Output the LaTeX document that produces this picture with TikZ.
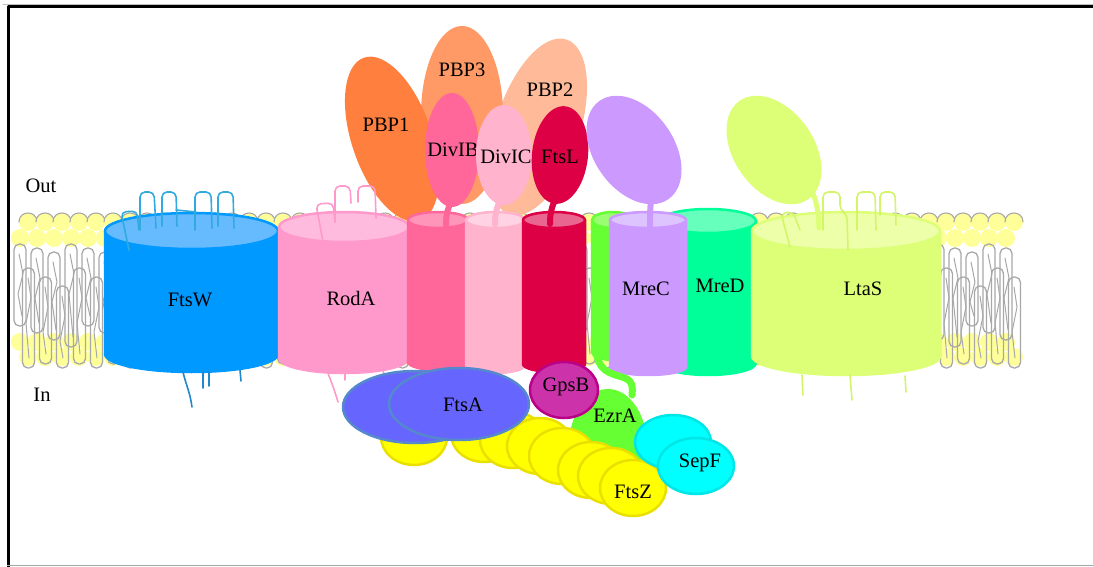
\documentclass[tikz,border=0pt]{standalone}
\usepackage{fontspec}
\setmainfont{Liberation Serif}
% membrane protein palette
\definecolor{ftsw}{HTML}{0099FF}\definecolor{ftswtop}{HTML}{66BBFF}
\definecolor{ftswloop}{HTML}{33AADD}\definecolor{ftswloopb}{HTML}{2288CC}
\definecolor{roda}{HTML}{FF99CC}\definecolor{rodatop}{HTML}{FFBBDD}
\definecolor{divib}{HTML}{FF6699}\definecolor{divibtop}{HTML}{FF95B8}
\definecolor{divic}{HTML}{FFB3CC}\definecolor{divictop}{HTML}{FFD3E3}
\definecolor{ftsl}{HTML}{DD0044}\definecolor{ftsltop}{HTML}{E8668F}
\definecolor{ezra}{HTML}{66FF33}\definecolor{ezratop}{HTML}{99FF70}
\definecolor{mrec}{HTML}{CC99FF}\definecolor{mrectop}{HTML}{DDC4FF}
\definecolor{mred}{HTML}{00FF99}\definecolor{mredtop}{HTML}{66FFBB}
\definecolor{ltas}{HTML}{DDFF77}\definecolor{ltastop}{HTML}{EEFFAA}\definecolor{ltasline}{HTML}{D2F56A}
\definecolor{pbpone}{HTML}{FF7F3F}\definecolor{pbpthree}{HTML}{FF9966}\definecolor{pbptwo}{HTML}{FFBB99}
\definecolor{ftsa}{HTML}{6666FF}\definecolor{ftsaedge}{HTML}{5588CC}
\definecolor{gpsb}{HTML}{CC33AA}\definecolor{gpsbedge}{HTML}{BB0088}
\definecolor{ftsz}{HTML}{FFFF00}\definecolor{ftszedge}{HTML}{EAE000}
\definecolor{sepf}{HTML}{00FFFF}\definecolor{sepfedge}{HTML}{00E5E5}
\definecolor{lipidhead}{HTML}{FFFF99}\definecolor{lipidtail}{HTML}{A8A8A8}

% transmembrane cylinder: xl, xr, top centre y, bottom centre y, y radius, body, lid
\newcommand\memcyl[7]{%
  \pgfmathsetmacro\cylxc{(#1+#2)/2}%
  \pgfmathsetmacro\cylrx{(#2-#1)/2}%
  \pgfmathsetmacro\cylkx{0.5523*\cylrx}%
  \pgfmathsetmacro\cylyb{#4+#5}%
  \pgfmathsetmacro\cylybk{#4+0.5523*#5}%
  \filldraw[fill=#6, draw=#6, line width=2.5pt]
    (#1,#3) -- (#1,#4) .. controls (#1,\cylybk) and (\cylxc-\cylkx,\cylyb) .. (\cylxc,\cylyb)
    .. controls (\cylxc+\cylkx,\cylyb) and (#2,\cylybk) .. (#2,#4) -- (#2,#3) -- cycle;
  \filldraw[fill=#7, draw=#6, line width=2.5pt] (\cylxc,#3) ellipse [x radius=\cylrx, y radius=#5];
}

\begin{document}
\begin{tikzpicture}[x=1pt, y=-1pt, line join=round, line cap=round,
  lbl/.style={font=\fontsize{20.5}{24}\selectfont, inner sep=0pt, text=black},
  tmloop/.style={line width=1.6pt, rounded corners=5pt},
  stalk/.style={line width=6pt},
  tail/.style={lipidtail, line width=1.3pt, rounded corners=5.5pt}]
\useasboundingbox (0,0) rectangle (1093,567);

% ---- lipid bilayer ----
\foreach \i in {0,...,58} {
  \pgfmathsetmacro\lx{20+17*\i}
  \fill[lipidhead] (\lx,342) circle [radius=9];
  \fill[lipidhead] (\lx+8,357) circle [radius=9];
  \fill[lipidhead] (\lx+8,222) circle [radius=9];
  \fill[lipidhead] (\lx,238) circle [radius=9];
  \draw[lipidtail, line width=1.1pt] (\lx-1,222) .. controls (\lx-1,210) and (\lx+17,210) .. (\lx+17,222);
}
\foreach \i in {0,...,58} {
  \pgfmathsetmacro\lx{20+17*\i}
  \pgfmathsetmacro\ua{244+mod(\i,3)*4}
  \pgfmathsetmacro\ub{326+mod(\i,4)*7}
  \pgfmathsetmacro\la{268+mod(\i,3)*9}
  \pgfmathsetmacro\lb{368-mod(\i,2)*4}
  % upper-leaflet tails
  \draw[tail] (\lx-6,\ub) -- (\lx-6,\ua) -- (\lx+6,\ua) -- (\lx+6,\ub) -- cycle;
  \draw[lipidtail, line width=1pt]
    (\lx-1,\ua+10) -- (\lx+3,\ua+30) -- (\lx-2,\ua+50) -- (\lx+2,\ub-10);
  % lower-leaflet tails
  \draw[tail] (\lx+2.5,\la) -- (\lx+2.5,\lb) -- (\lx+14.5,\lb) -- (\lx+14.5,\la) -- cycle;
  \draw[lipidtail, line width=1pt]
    (\lx+8,\la+10) -- (\lx+11,\la+30) -- (\lx+6,\la+55) -- (\lx+9,\lb-10);
}

% ---- periplasmic domains ----
\fill[pbptwo, rotate around={-18:(538,127)}] (538,127) ellipse [x radius=42, y radius=92];
\fill[pbpthree] (462,115) ellipse [x radius=41, y radius=89];
\fill[pbpone, rotate around={19:(392,139)}] (392,139) ellipse [x radius=40, y radius=86];
\node[lbl] (tPBP1) at (386,125) {PBP1};
\node[lbl] (tPBP3) at (462,70) {PBP3};
\node[lbl] (tPBP2) at (550,90) {PBP2};

\fill[divib] (452,150) ellipse [x radius=27, y radius=57];
\node[lbl] (tDivIB) at (453,150) {DivIB};
\fill[divic] (504,155) ellipse [x radius=28, y radius=50];
\node[lbl] (tDivIC) at (506,157) {DivIC};
\fill[ftsl, rotate around={-6:(560,155)}] (560,155) ellipse [x radius=28, y radius=49];
\node[lbl] (tFtsL) at (560,157) {FtsL};

\fill[mrec, rotate around={35:(634,150)}] (634,150) ellipse [x radius=40, y radius=60];
\fill[ltas, rotate around={35:(774,150)}] (774,150) ellipse [x radius=40, y radius=60];

% ---- transmembrane cylinders ----
\memcyl{105}{278}{231}{354}{18}{ftsw}{ftswtop}
\memcyl{279}{409}{227}{358}{15}{roda}{rodatop}
\memcyl{408}{468}{220}{362}{8}{divib}{divibtop}
\memcyl{466}{525}{220}{365}{8}{divic}{divictop}
\memcyl{523}{585}{220}{364}{8}{ftsl}{ftsltop}
\memcyl{592}{634}{220}{352}{8}{ezra}{ezratop}
\memcyl{660}{756}{221}{363}{12}{mred}{mredtop}
\memcyl{610}{686}{220}{367}{8}{mrec}{mrectop}
\memcyl{752}{940}{231}{356}{19}{ltas}{ltastop}

\node[lbl] (tFtsW) at (190,300) {FtsW};
\node[lbl] (tRodA) at (351,298) {RodA};
\node[lbl] (tMreC) at (646,289) {MreC};
\node[lbl] (tMreD) at (720,286) {MreD};
\node[lbl] (tLtaS) at (863,289) {LtaS};

% stalks joining domains to their helices
\draw[divib, stalk] (452,200) .. controls (447,210) and (446,215) .. (446,226);
\draw[divic, stalk] (500,200) .. controls (496,210) and (495,215) .. (495,224);
\draw[ftsl, stalk] (556,198) .. controls (551,208) and (550,215) .. (550,224);
\draw[mrec, stalk] (652,195) .. controls (650,205) and (650,215) .. (650,226);
\draw[ltas, line width=5pt] (808,185) .. controls (815,195) and (818,205) .. (819,228);

% extracellular and cytoplasmic loops
\begin{scope}[ftswloop, tmloop]
  \draw (129,250) -- (121,212) -- (137,211) -- (139,230);
  \draw (140,230) -- (140,192) -- (154,192) -- (156,228);
  \draw (162,226) -- (162,192) -- (176,192) -- (177,226);
  \draw (176,210) -- (196,212);
  \draw (195,230) -- (195,192) -- (211,192) -- (212,228);
  \draw (218,226) -- (218,192) -- (233,192) -- (234,228);
\end{scope}
\begin{scope}[ftswloopb, line width=1.6pt]
  \draw (183,372) .. controls (186,385) and (190,392) .. (192,407);
  \draw (203,372) -- (203,388);
  \draw (209,372) -- (209,386);
  \draw (240,370) -- (241,381);
\end{scope}
\begin{scope}[roda, tmloop]
  \draw (323,242) -- (316,204) -- (333,203) -- (335,222);
  \draw (335,222) -- (335,186) -- (350,186) -- (351,203);
  \draw (358,202) -- (358,186) -- (375,186) -- (376,218);
\end{scope}
\begin{scope}[roda, line width=1.6pt]
  \draw (327,371) .. controls (332,383) and (335,392) .. (338,402);
  \draw (345,371) -- (345,380);
  \draw (383,368) -- (384,378);
\end{scope}
\begin{scope}[ltasline, tmloop]
  \draw (790,247) -- (781,213) -- (793,212) -- (800,230);
  \draw (823,230) -- (823,192) -- (840,192) -- (840,210) -- (847,214) -- (848,250);
  \draw (857,230) -- (857,192) -- (875,192) -- (876,230);
  \draw (880,215) -- (880,192) -- (895,192) -- (896,225);
\end{scope}
\begin{scope}[ltasline, line width=1.6pt]
  \draw (802,375) -- (803,395);
  \draw (850,375) -- (852,400);
  \draw (905,376) -- (906,392);
\end{scope}

% ---- cytoplasmic proteins ----
\fill[ezra] (608,446) ellipse [x radius=39, y radius=57];
\draw[ezra, line width=7pt] (596,350) .. controls (598,370) and (608,373) .. (622,377)
  .. controls (632,380) and (633,385) .. (632,395);

\foreach \zx/\zy in {414/437, 484/434, 513/440, 540/446, 562/456, 591/470, 611/476, 633/488}
  \filldraw[fill=ftsz, draw=ftszedge, line width=2.5pt] (\zx,\zy) ellipse [x radius=33, y radius=28];
\node[lbl] (tFtsZ) at (633,492) {FtsZ};

\filldraw[fill=ftsa, draw=ftsaedge, line width=2.5pt] (415,407) ellipse [x radius=72, y radius=36];
\filldraw[fill=ftsa, draw=ftsaedge, line width=2.5pt] (459,404) ellipse [x radius=70, y radius=36];
\node[lbl] (tFtsA) at (463,405) {FtsA};

\filldraw[fill=gpsb, draw=gpsbedge, line width=2.5pt] (564,390) ellipse [x radius=34, y radius=28];
\node[lbl] (tGpsB) at (566,387) {GpsB};
\node[lbl] (tEzrA) at (615,416) {EzrA};

\filldraw[fill=sepf, draw=sepfedge, line width=2.5pt] (673,442) ellipse [x radius=38, y radius=27];
\filldraw[fill=sepf, draw=sepfedge, line width=2.5pt] (696,466) ellipse [x radius=38, y radius=28];
\node[lbl] (tSepF) at (700,463) {SepF};

% compartment labels
\node[lbl] (tOut) at (41,186) {Out};
\node[lbl] (tIn) at (42,395) {In};

% frame
\draw[black!25, line width=0.8pt] (3,4.2) -- (1093,4.2);
\draw[black, line width=3pt, line cap=butt] (8.5,567) -- (8.5,6.5) -- (1093,6.5);
\draw[black!35, line width=1.2pt, line cap=butt] (7,565.8) -- (1093,565.8);
\end{tikzpicture}
\end{document}
